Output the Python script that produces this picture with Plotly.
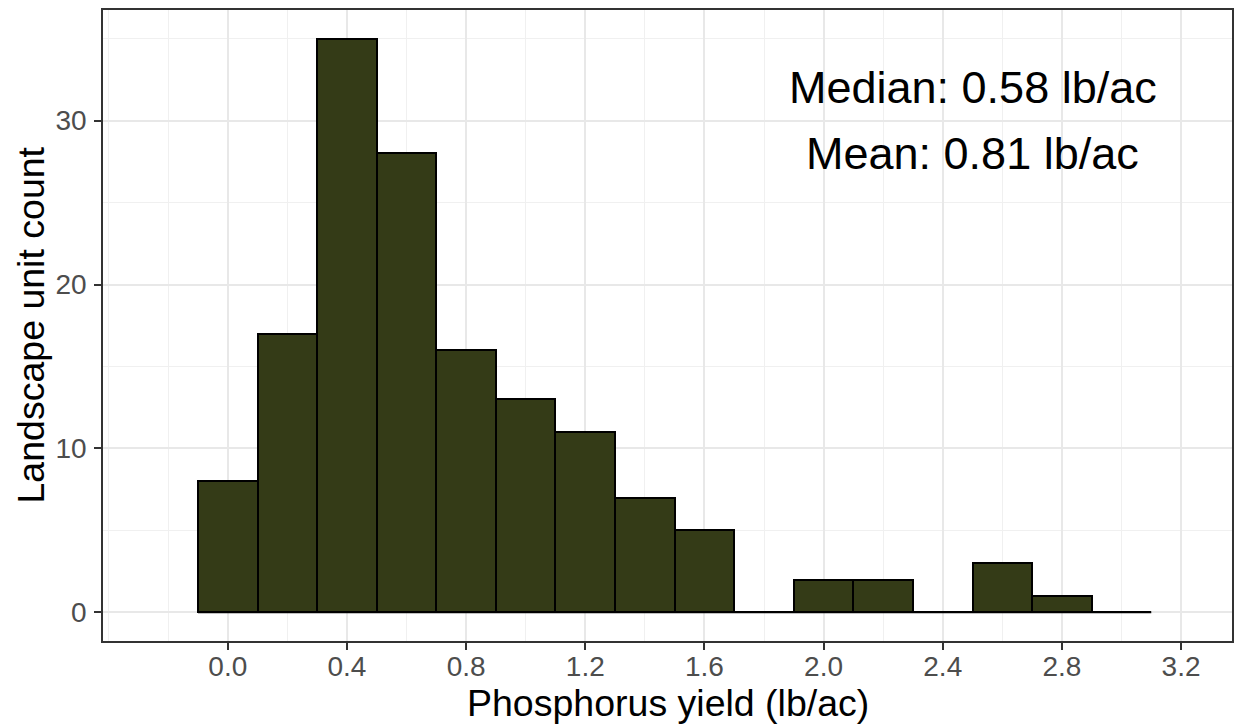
import plotly.graph_objects as go

bin_centers = [0.0, 0.2, 0.4, 0.6, 0.8, 1.0, 1.2, 1.4, 1.6, 1.8, 2.0, 2.2, 2.4, 2.6, 2.8, 3.0]
counts = [8, 17, 35, 28, 16, 13, 11, 7, 5, 0, 2, 2, 0, 3, 1, 0]
bin_width = 0.2
x_ticks = [0.0, 0.4, 0.8, 1.2, 1.6, 2.0, 2.4, 2.8, 3.2]
y_ticks = [0, 10, 20, 30]
stats_text = ["Median: 0.58 lb/ac", "Mean: 0.81 lb/ac"]
stats_pos = [(2.5, 32), (2.5, 28)]
x_title = "Phosphorus yield (lb/ac)"
y_title = "Landscape unit count"

FONT = "Liberation Sans, Arial, sans-serif"
fill = "#343B17"

fig = go.Figure()
edges_lo = bin_centers[0] - bin_width / 2
edges_hi = bin_centers[-1] + bin_width / 2
fig.add_trace(go.Scatter(x=[edges_lo, edges_hi], y=[0, 0], mode="lines",
                         line=dict(color="black", width=2), showlegend=False, hoverinfo="skip"))
fig.add_trace(go.Bar(x=bin_centers, y=counts, width=bin_width,
                     marker=dict(color=fill, line=dict(color="black", width=2)),
                     showlegend=False))

for txt, (xx, yy) in zip(stats_text, stats_pos):
    fig.add_annotation(x=xx, y=yy, text=txt, showarrow=False,
                       font=dict(family=FONT, size=45, color="black"),
                       xanchor="center", yanchor="middle")

# axis titles
fig.add_annotation(xref="paper", yref="paper", x=0.5, y=0, yshift=-62,
                   text=x_title, showarrow=False, xanchor="center", yanchor="middle",
                   font=dict(family=FONT, size=37.5, color="black"))
fig.add_annotation(xref="paper", yref="paper", x=0, y=0.5, xshift=-73,
                   text=y_title, showarrow=False, xanchor="center", yanchor="middle",
                   textangle=-90,
                   font=dict(family=FONT, size=37.5, color="black"))

fig.update_layout(
    width=1236, height=725,
    margin=dict(l=103, r=4, t=10, b=84),
    plot_bgcolor="white", paper_bgcolor="white",
    bargap=0,
    xaxis=dict(range=[-0.419, 3.371], tickvals=x_ticks,
               ticktext=[f"{v:.1f}" for v in x_ticks],
               automargin=False,
               showgrid=True, gridcolor="#E8E8E8", gridwidth=2,
               minor=dict(dtick=0.2, tick0=0.2, showgrid=True, gridcolor="#F0F0F0", gridwidth=1.2),
               ticks="outside", ticklen=7, tickwidth=1.5, tickcolor="#333333",
               showline=True, linecolor="#333333", linewidth=1.5, mirror=True,
               zeroline=False, ticklabelstandoff=-7,
               tickfont=dict(family=FONT, size=28, color="#4D4D4D")),
    yaxis=dict(range=[-1.75, 36.75], tickvals=y_ticks,
               automargin=False,
               showgrid=True, gridcolor="#E8E8E8", gridwidth=2,
               minor=dict(dtick=10, tick0=5, showgrid=True, gridcolor="#F0F0F0", gridwidth=1.2),
               ticks="outside", ticklen=7, tickwidth=1.5, tickcolor="#333333",
               showline=True, linecolor="#333333", linewidth=1.5, mirror=True,
               zeroline=False, ticklabelstandoff=2,
               tickfont=dict(family=FONT, size=28, color="#4D4D4D")),
)

fig.write_html("out.html", config={"displayModeBar": False},
               post_script="document.body.style.margin='0';document.body.style.overflow='hidden';")
